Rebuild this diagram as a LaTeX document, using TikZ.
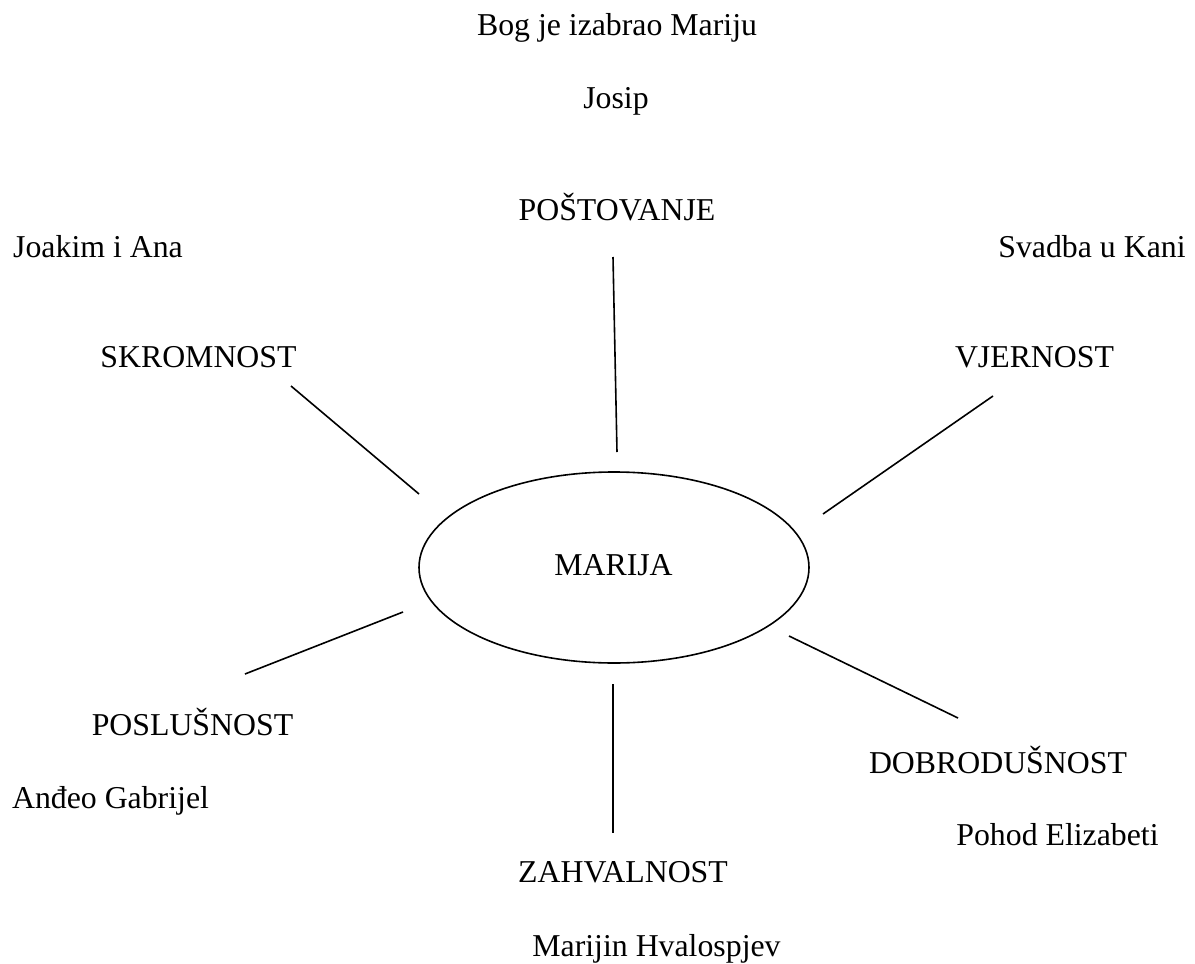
\documentclass[tikz,border=0pt]{standalone}
\usepackage{fontspec}
\setmainfont{Liberation Serif}
\usetikzlibrary{shapes.geometric}
\begin{document}
\begin{tikzpicture}[x=1pt,y=-1pt,
  lbl/.style={inner sep=0pt,anchor=base,font=\fontsize{31.8}{38}\selectfont},
  spoke/.style={line width=1.6pt},
  hub/.style={draw,ellipse,line width=1.6pt,minimum width=390pt,minimum height=191pt,inner sep=0pt}]
\useasboundingbox (0,0) rectangle (1195,964);
\node[hub] (marija) at (614,567.5) {};
\node[lbl] (marijatxt) at (613.5,575) {MARIJA};
\node[lbl] (bog) at (617,35) {Bog je izabrao Mariju};
\node[lbl] (josip) at (616,108) {Josip};
\node[lbl] (post) at (617,220) {POŠTOVANJE};
\node[lbl] (joakim) at (98,257) {Joakim i Ana};
\node[lbl] (svadba) at (1092,257) {Svadba u Kani};
\node[lbl] (skrom) at (198.5,367) {SKROMNOST};
\node[lbl] (vjer) at (1034.5,367) {VJERNOST};
\node[lbl] (posl) at (192.5,735) {POSLUŠNOST};
\node[lbl] (andjeo) at (110.5,808) {Anđeo Gabrijel};
\node[lbl] (dobro) at (998,773) {DOBRODUŠNOST};
\node[lbl] (pohod) at (1057.5,845) {Pohod Elizabeti};
\node[lbl] (zahv) at (623,882) {ZAHVALNOST};
\node[lbl] (hval) at (656.5,956) {Marijin Hvalospjev};
\coordinate (t1) at (613,257);  \coordinate (t2) at (617,452);
\coordinate (s1) at (291,386);  \coordinate (s2) at (419,494);
\coordinate (v1) at (993,396);  \coordinate (v2) at (823,514);
\coordinate (p1) at (403,612);  \coordinate (p2) at (245,674);
\coordinate (d1) at (789,636);  \coordinate (d2) at (958,718);
\coordinate (z1) at (613,684);  \coordinate (z2) at (613,833);
\draw[spoke] (t1) -- (t2);
\draw[spoke] (s1) -- (s2);
\draw[spoke] (v1) -- (v2);
\draw[spoke] (p1) -- (p2);
\draw[spoke] (d1) -- (d2);
\draw[spoke] (z1) -- (z2);
\end{tikzpicture}
\end{document}
